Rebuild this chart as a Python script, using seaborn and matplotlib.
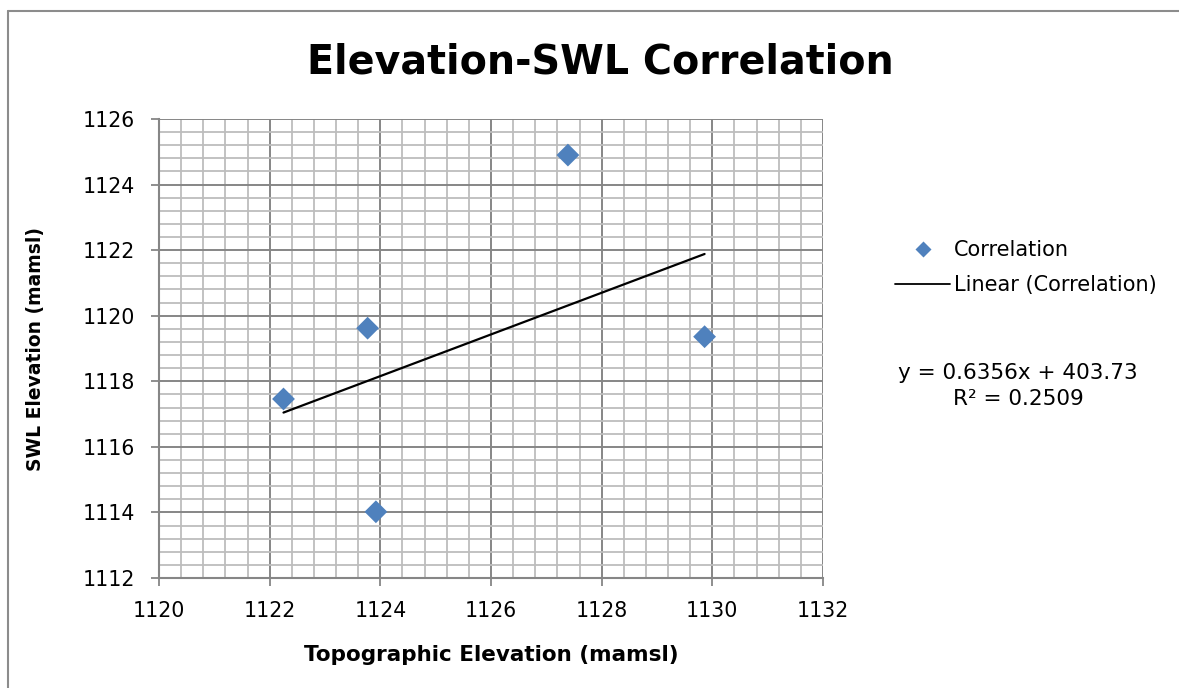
import numpy as np
import pandas as pd
import matplotlib
matplotlib.use("Agg")
import matplotlib.pyplot as plt
from matplotlib.lines import Line2D
from matplotlib.ticker import MultipleLocator
import seaborn as sns

# Data
topo_elev = [1122.25, 1123.77, 1123.92, 1127.39, 1129.86]
swl_elev = [1117.46, 1119.62, 1114.02, 1124.90, 1119.36]
x_ticks = [1120, 1122, 1124, 1126, 1128, 1130, 1132]
y_ticks = [1112, 1114, 1116, 1118, 1120, 1122, 1124, 1126]

title = "Elevation-SWL Correlation"
x_label = "Topographic Elevation (mamsl)"
y_label = "SWL Elevation (mamsl)"
eq_text = "y = 0.6356x + 403.73\nR² = 0.2509"

sns.set_theme(style="white")
plt.rcParams['font.family'] = ['DejaVu Sans']
plt.rcParams['text.color'] = 'black'
plt.rcParams['axes.labelcolor'] = 'black'
plt.rcParams['xtick.color'] = 'black'
plt.rcParams['ytick.color'] = 'black'

df = pd.DataFrame({"x": topo_elev, "y": swl_elev})

fig = plt.figure(figsize=(11.79, 6.88), dpi=100)
ax = fig.add_axes([159/1179, 1-578/688, (823-159)/1179, (578-119)/688])

# grid
ax.xaxis.set_major_locator(MultipleLocator(2))
ax.xaxis.set_minor_locator(MultipleLocator(0.4))
ax.yaxis.set_major_locator(MultipleLocator(2))
ax.yaxis.set_minor_locator(MultipleLocator(0.4))
ax.grid(which="major", color="#868686", linewidth=1.4, zorder=0)
ax.grid(which="minor", color="#bdbdbd", linewidth=1.3, zorder=0)
ax.set_axisbelow(True)

sns.regplot(data=df, x="x", y="y", ax=ax, ci=None, truncate=True,
            scatter=False, line_kws=dict(color="black", linewidth=1.6, zorder=3))
sns.scatterplot(data=df, x="x", y="y", ax=ax, marker="D", s=135,
                color="#4F81BD", edgecolor="none", zorder=4)

ax.set_xlim(1120, 1132)
ax.set_ylim(1112, 1126)
ax.set_xticks(x_ticks)
ax.set_yticks(y_ticks)
ax.set_xticklabels([str(v) for v in x_ticks], fontsize=14.8)
ax.set_yticklabels([str(v) for v in y_ticks], fontsize=14.8)
ax.tick_params(axis="x", which="major", direction="out", length=5.5,
               width=1.3, color="#868686", bottom=True, pad=11)
ax.tick_params(axis="y", which="major", direction="out", length=5.5,
               width=1.3, color="#868686", left=True, pad=12)
ax.tick_params(axis="both", which="minor", length=0)
for side in ["top", "right"]:
    ax.spines[side].set_visible(False)
for side in ["left", "bottom"]:
    ax.spines[side].set_color("#868686")
    ax.spines[side].set_linewidth(1.5)

ax.set_xlabel(x_label, fontsize=15.5, fontweight="bold", labelpad=17)
ax.set_ylabel(y_label, fontsize=13.5, fontweight="bold", labelpad=27)

fig.text(600/1179, 1-62/688, title, fontsize=28.5, fontweight="bold",
         ha="center", va="center")

handles = [Line2D([0], [0], marker="D", color="none", markerfacecolor="#4F81BD",
                  markeredgecolor="none", markersize=8),
           Line2D([0], [0], color="black", linewidth=1.3)]
leg = fig.legend(handles, ["Correlation", "Linear (Correlation)"],
                 loc="upper left", bbox_to_anchor=(885/1179, 1-230/688),
                 frameon=False, fontsize=15, handlelength=2.6,
                 handletextpad=0.2, labelspacing=0.72, borderpad=0)

fig.text(1018/1179, 1-386/688, eq_text, fontsize=15.5, ha="center",
         va="center", linespacing=1.35)

# outer chart border (left and top edges visible)
fig.add_artist(Line2D([8/1179, 8/1179], [0, 1-11/688], transform=fig.transFigure,
                      color="#8c8c8c", linewidth=1.5))
fig.add_artist(Line2D([8/1179, 1], [1-11/688, 1-11/688], transform=fig.transFigure,
                      color="#8c8c8c", linewidth=1.5))

fig.savefig("out.png", dpi=100)
